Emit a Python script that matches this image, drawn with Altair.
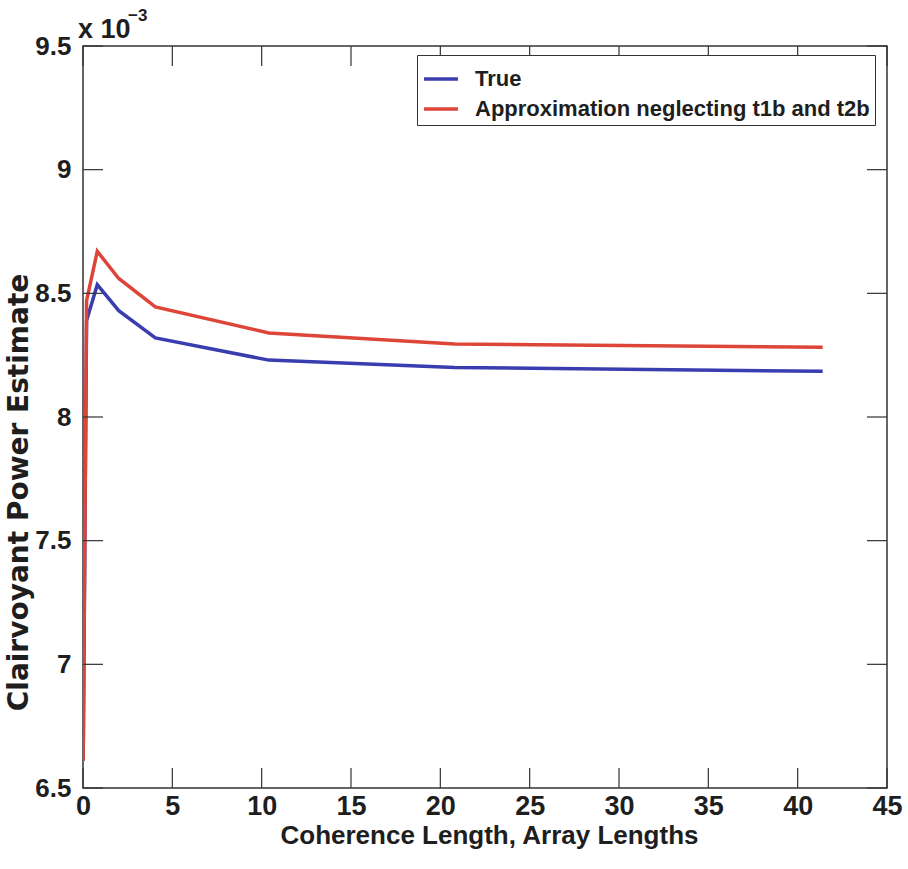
import altair as alt
import pandas as pd

# ---- data ----
x_vals = [0.01, 0.2, 0.8, 2.0, 4.05, 10.4, 20.8, 41.4]
true_vals = [6.61e-3, 8.39e-3, 8.535e-3, 8.43e-3, 8.32e-3, 8.23e-3, 8.20e-3, 8.185e-3]
approx_vals = [6.61e-3, 8.47e-3, 8.67e-3, 8.56e-3, 8.445e-3, 8.34e-3, 8.295e-3, 8.282e-3]
series_names = ["True", "Approximation neglecting t1b and t2b"]
series_colors = ["#3a3db0", "#dd4539"]
x_ticks = [0, 5, 10, 15, 20, 25, 30, 35, 40, 45]
y_ticks = [6.5e-3, 7.0e-3, 7.5e-3, 8.0e-3, 8.5e-3, 9.0e-3, 9.5e-3]

df = pd.DataFrame(
    {"x": x_vals * 2,
     "y": true_vals + approx_vals,
     "series": [series_names[0]] * len(x_vals) + [series_names[1]] * len(x_vals),
     "order": list(range(len(x_vals))) * 2}
)
xt = pd.DataFrame({"x": x_ticks})
yt = pd.DataFrame({"y": y_ticks})

W, H = 804, 742
FONT = "Liberation Sans, Arial"
TICK = 20
TXT = "#1e1e1e"

xscale = alt.Scale(domain=[0, 45], nice=False, zero=False)
yscale = alt.Scale(domain=[6.5e-3, 9.5e-3], nice=False, zero=False)

lines = alt.Chart(df).mark_line(strokeWidth=3.5, clip=True).encode(
    x=alt.X("x:Q", scale=xscale,
            axis=alt.Axis(values=x_ticks, title="Coherence Length, Array Lengths",
                          ticks=False, domain=False, grid=False,
                          labelFont=FONT, labelFontSize=27, labelFontWeight="bold",
                          labelColor=TXT, labelPadding=5,
                          titleFont=FONT, titleFontSize=26, titleFontWeight="bold",
                          titleColor=TXT, titleBaseline="middle", titleY=47,
                          titleX=W / 2 + 4, labelFlush=False)),
    y=alt.Y("y:Q", scale=yscale,
            axis=alt.Axis(values=y_ticks, title="Clairvoyant Power Estimate",
                          labelExpr="format(datum.value*1000, '.2~f')",
                          ticks=False, domain=False, grid=False,
                          labelFont=FONT, labelFontSize=26, labelFontWeight="bold",
                          labelColor=TXT, labelPadding=12,
                          titleFont="DejaVu Sans", titleFontSize=28, titleFontWeight="bold",
                          titleColor=TXT, titleBaseline="middle", titleAlign="center",
                          titleX=-64, titleY=446, labelFlush=False)),
    color=alt.Color("series:N",
                    scale=alt.Scale(domain=series_names, range=series_colors),
                    sort=series_names,
                    legend=alt.Legend(title=None, orient="none", legendX=334, legendY=9,
                                      symbolType="stroke", symbolStrokeWidth=3.5,
                                      symbolSize=1150, labelFont=FONT, labelFontSize=22,
                                      labelFontWeight="bold", labelColor=TXT,
                                      labelOffset=15,
                                      strokeColor="#333", fillColor="white",
                                      padding=5, rowPadding=-17, labelLimit=600)),
    order="order:Q",
)

tick_color = "#333"
bottom_ticks = alt.Chart(xt).mark_rule(color=tick_color, strokeWidth=1.2).encode(
    x=alt.X("x:Q", scale=xscale), y=alt.value(H), y2=alt.value(H - TICK))
top_ticks = alt.Chart(xt).mark_rule(color=tick_color, strokeWidth=1.2).encode(
    x=alt.X("x:Q", scale=xscale), y=alt.value(0), y2=alt.value(TICK))
left_ticks = alt.Chart(yt).mark_rule(color=tick_color, strokeWidth=1.2).encode(
    y=alt.Y("y:Q", scale=yscale), x=alt.value(0), x2=alt.value(TICK))
right_ticks = alt.Chart(yt).mark_rule(color=tick_color, strokeWidth=1.2).encode(
    y=alt.Y("y:Q", scale=yscale), x=alt.value(W), x2=alt.value(W - TICK))

exp_main = alt.Chart(pd.DataFrame({"t": ["x 10"]})).mark_text(
    font=FONT, fontSize=27, fontWeight="bold", color=TXT, align="left",
    baseline="alphabetic").encode(text="t:N", x=alt.value(-5), y=alt.value(-8))
exp_sup = alt.Chart(pd.DataFrame({"t": ["\u22123"]})).mark_text(
    font=FONT, fontSize=17, fontWeight="bold", color=TXT, align="left",
    baseline="alphabetic").encode(text="t:N", x=alt.value(45), y=alt.value(-25))

chart = alt.layer(
    lines, bottom_ticks, top_ticks, left_ticks, right_ticks, exp_main, exp_sup
).properties(
    width=W, height=H,
    autosize=alt.AutoSizeParams(type="none"),
    padding={"left": 83, "top": 46, "right": 21, "bottom": 81},
    background="white",
).configure_view(stroke="#333", strokeWidth=1.5)

chart.save("out.html", embed_options={"renderer": "svg", "actions": False})
